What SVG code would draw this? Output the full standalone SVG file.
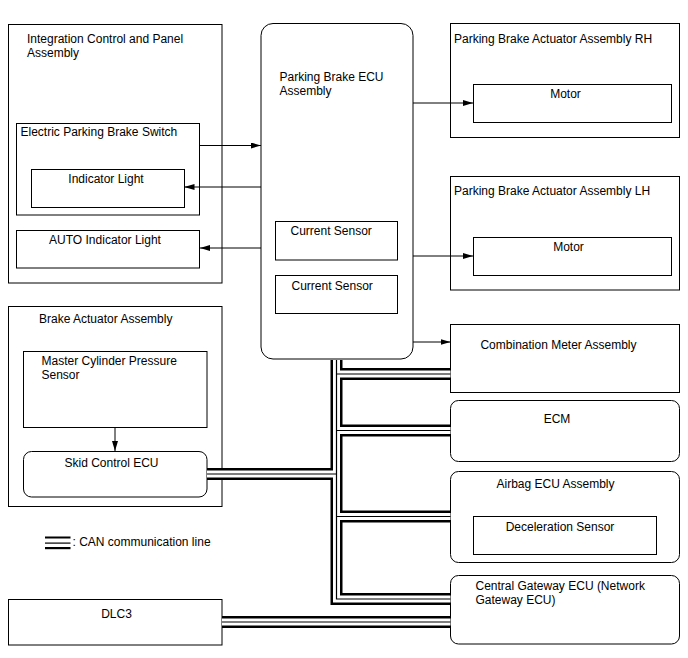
<svg xmlns="http://www.w3.org/2000/svg" xmlns:xlink="http://www.w3.org/1999/xlink" width="688" height="658" viewBox="0 0 688 658">
<style>
.box{fill:#fff;stroke:#000;stroke-width:1}
.in{fill:none;stroke:#000;stroke-width:1}
text{font-family:"Liberation Sans",Arial,sans-serif;font-size:12px;fill:#000}
.c{text-anchor:middle}
.arr{fill:none;stroke:#000;stroke-width:1;marker-end:url(#ah)}
.busA{fill:none;stroke:#000;stroke-width:12;stroke-linejoin:miter}
.busB{fill:none;stroke:#fff;stroke-width:7;stroke-linejoin:miter}
.busC{fill:none;stroke:#000;stroke-width:1.2;stroke-linejoin:miter}
</style>
<defs>
<marker id="ah" viewBox="0 0 10 6" refX="10" refY="3" markerWidth="10" markerHeight="6" markerUnits="userSpaceOnUse" orient="auto">
<path d="M0,0 L10,3 L0,6 z" fill="#000"/>
</marker>
<g id="busPaths">
<path d="M336.5,360 V599 H450.5"/>
<path d="M336.5,374 H450.5"/>
<path d="M336.5,430.5 H450.5"/>
<path d="M336.5,516.5 H450.5"/>
<path d="M207,474 H336.5"/>
<path d="M222,622 H450.5"/>
</g>
</defs>
<rect width="688" height="658" fill="#fff"/>

<g id="integration">
<rect class="box" x="8.5" y="24.5" width="213.5" height="258.5"/>
<text x="27" y="43">Integration Control and Panel</text>
<text x="27" y="57">Assembly</text>
</g>
<g id="epbSwitch">
<rect class="box" x="16.5" y="123.5" width="183" height="91.5"/>
<text x="20.5" y="136">Electric Parking Brake Switch</text>
</g>
<g id="indicatorLight">
<rect class="box" x="31.5" y="169.5" width="153" height="38"/>
<text class="c" x="106" y="183">Indicator Light</text>
</g>
<g id="autoIndicator">
<rect class="box" x="16.5" y="230.5" width="183" height="37.5"/>
<text class="c" x="105" y="244">AUTO Indicator Light</text>
</g>

<g id="ecu">
<rect class="box" x="261" y="23.5" width="152" height="335.5" rx="12" ry="12"/>
<text x="279.5" y="81">Parking Brake ECU</text>
<text x="279.5" y="95">Assembly</text>
</g>
<g id="currentSensor1">
<rect class="box" x="275.5" y="221.5" width="122" height="38.5"/>
<text x="290.5" y="235">Current Sensor</text>
</g>
<g id="currentSensor2">
<rect class="box" x="275.5" y="275.5" width="122" height="38"/>
<text x="291.5" y="290">Current Sensor</text>
</g>

<g id="actuatorRH">
<rect class="box" x="450.5" y="23.5" width="229" height="114"/>
<text x="454" y="42.5">Parking Brake Actuator Assembly RH</text>
</g>
<g id="motorRH">
<rect class="box" x="473.5" y="84.5" width="198" height="38"/>
<text class="c" x="565.5" y="98">Motor</text>
</g>
<g id="actuatorLH">
<rect class="box" x="450.5" y="176.5" width="229" height="113.5"/>
<text x="454" y="195">Parking Brake Actuator Assembly LH</text>
</g>
<g id="motorLH">
<rect class="box" x="473.5" y="237.5" width="198" height="38"/>
<text class="c" x="568.5" y="250.5">Motor</text>
</g>

<g id="meter">
<rect class="box" x="450.5" y="324.5" width="229" height="68"/>
<text class="c" x="558.5" y="349">Combination Meter Assembly</text>
</g>
<g id="ecm">
<rect class="box" x="450.5" y="400.5" width="229" height="61" rx="8" ry="8"/>
<text class="c" x="557" y="422.5">ECM</text>
</g>
<g id="airbag">
<rect class="box" x="450.5" y="471.5" width="229" height="91" rx="8" ry="8"/>
<text class="c" x="555.5" y="487.5">Airbag ECU Assembly</text>
</g>
<g id="decelSensor">
<rect class="box" x="473.5" y="516.5" width="183" height="38"/>
<text class="c" x="560" y="531">Deceleration Sensor</text>
</g>
<g id="gateway">
<rect class="box" x="450.5" y="575.5" width="229" height="68.5" rx="8" ry="8"/>
<text x="475.5" y="589.5">Central Gateway ECU (Network</text>
<text x="475.5" y="604">Gateway ECU)</text>
</g>

<g id="brakeActuator">
<rect class="box" x="8.5" y="306.5" width="213.5" height="200"/>
<text x="39" y="322.5">Brake Actuator Assembly</text>
</g>
<g id="mcPressureSensor">
<rect class="box" x="23.5" y="351.5" width="183.5" height="76"/>
<text x="41.5" y="365">Master Cylinder Pressure</text>
<text x="41.5" y="378.5">Sensor</text>
</g>
<g id="skidEcu">
<rect class="box" x="23.5" y="451.5" width="183.5" height="45.5" rx="8" ry="8"/>
<text class="c" x="111.5" y="466.5">Skid Control ECU</text>
</g>

<g id="dlc3">
<rect class="box" x="8.5" y="599.5" width="213.5" height="45.5"/>
<text class="c" x="116.5" y="617.5">DLC3</text>
</g>

<g id="legend">
<rect x="45" y="536.5" width="25.5" height="2" fill="#000"/>
<rect x="45" y="542.5" width="25.5" height="1.2" fill="#000"/>
<rect x="45" y="547" width="25.5" height="2.2" fill="#000"/>
<text x="72.5" y="545.5">: CAN communication line</text>
</g>

<g id="connectors">
<path class="arr" d="M200,145.5 H261"/>
<path class="arr" d="M261,187 H184.5"/>
<path class="arr" d="M261,248 H200"/>
<path class="arr" d="M413,103 H473"/>
<path class="arr" d="M413,256 H473"/>
<path class="arr" d="M413,342 H450.5"/>
<path class="arr" d="M115,427.5 V451"/>
<use xlink:href="#busPaths" class="busA"/>
<use xlink:href="#busPaths" class="busB"/>
<use xlink:href="#busPaths" class="busC"/>
</g>
</svg>
